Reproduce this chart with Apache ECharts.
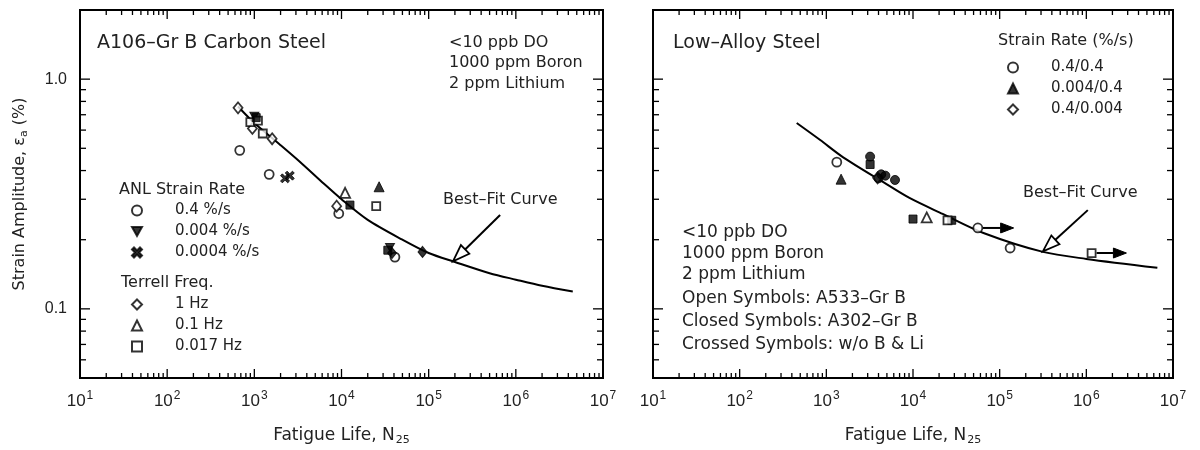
<!DOCTYPE html>
<html><head><meta charset="utf-8">
<script src="https://cdn.jsdelivr.net/npm/echarts@6/dist/echarts.min.js"></script>
<style>html,body{margin:0;padding:0;background:#fff}#c{width:1200px;height:450px}</style>
</head><body><div id="c"></div>
<script>
// ---------------- axis definitions ----------------
const xRange = [10, 1e7];
const yRange = [0.05, 2];
const xMajorTicks = [10, 100, 1000, 1e4, 1e5, 1e6, 1e7];
const xTickLabels = ['1', '2', '3', '4', '5', '6', '7'];       // exponents of 10
const yMajorTicks = [0.1, 1];
const yTickLabels = ['0.1', '1.0'];
const minorMultipliers = [2, 3, 4, 5, 6, 7, 8, 9];

// ---------------- left panel (A106-Gr B Carbon Steel) ----------------
const leftCurve = [[650,0.76],[1000,0.644],[2000,0.516],[3300,0.438],[6000,0.356],[10000,0.300],[20000,0.244],[50000,0.200],[100000,0.175],[200000,0.160],[500000,0.143],[1000000,0.134],[2000000,0.126],[4500000,0.119]];
const anlCircleOpen   = [[680,0.49],[1480,0.385],[9300,0.26],[41000,0.168]];
const anlDownTri      = [[1000,0.69],[36000,0.185]];
const anlCross        = [[2250,0.37],[2550,0.38]];
const terDiamondOpen  = [[650,0.75],[1600,0.55],[8800,0.28],[950,0.61]];
const terDiamondFill  = [[85000,0.177],[38000,0.175]];
const terTriOpen      = [[11000,0.32]];
const terTriFill      = [[27000,0.34]];
const terSquareOpen   = [[900,0.65],[1100,0.66],[25000,0.28],[1250,0.58]];
const terSquareFill   = [[12500,0.283],[1050,0.68],[34000,0.18]];
const leftFitArrow    = [[660000,0.256,190000,0.161]];

// ---------------- right panel (Low-Alloy Steel) ----------------
const rightCurve = [[455,0.644],[850,0.543],[1550,0.458],[4500,0.357],[9100,0.304],[22000,0.259],[65000,0.214],[316000,0.177],[1000000,0.165],[6600000,0.151]];
const rCircleOpen   = [[1320,0.435],[56000,0.225],[132000,0.184]];
const rCircleFill   = [[3200,0.46],[4300,0.385],[4000,0.37],[4800,0.38],[6200,0.364]];
const rTriFill      = [[1480,0.367]];
const rTriOpen      = [[14400,0.25]];
const rDiamondOpen  = [[3900,0.372]];
const rSquareFill   = [[3200,0.425],[10000,0.246],[28000,0.243]];
const rSquareOpen   = [[25000,0.243],[1150000,0.175]];
const rRunouts      = [[56000,0.225,145000,0.225],[1150000,0.175,2900000,0.175]];
const rightFitArrow = [[1040000,0.269,315000,0.178]];

// ---------------- texts ----------------
const leftTitle = 'A106\u2013Gr B Carbon Steel';
const leftEnv = ['<10 ppb DO', '1000 ppm Boron', '2 ppm Lithium'];
const anlHeader = 'ANL Strain Rate';
const anlNames = ['0.4 %/s', '0.004 %/s', '0.0004 %/s'];
const terHeader = 'Terrell Freq.';
const terNames = ['1 Hz', '0.1 Hz', '0.017 Hz'];
const rightTitle = 'Low\u2013Alloy Steel';
const rateHeader = 'Strain Rate (%/s)';
const rateNames = ['0.4/0.4', '0.004/0.4', '0.4/0.004'];
const rightNotes = ['<10 ppb DO', '1000 ppm Boron', '2 ppm Lithium', 'Open Symbols: A533\u2013Gr B', 'Closed Symbols: A302\u2013Gr B', 'Crossed Symbols: w/o B & Li'];
const fitLabel = 'Best\u2013Fit Curve';

// ---------------- styling ----------------
const FONT = '"Liberation Sans", Arial, sans-serif';
const WFONT = '"DejaVu Sans", "Liberation Sans", sans-serif';
const TXT = '#222';
const OPEN = {color:'#fff', borderColor:'#000', borderWidth:1.8};
const FILL = {color:'#000', borderColor:'#000', borderWidth:1};
const SYM = {
  circle: {symbol:'circle', symbolSize:9},
  down: {symbol:'path://M0,0L10,0L5,9Z', symbolSize:[9,8]},
  cross: {symbol:'path://M0,2L2,0L5,3L8,0L10,2L7,5L10,8L8,10L5,7L2,10L0,8L3,5Z', symbolSize:9},
  diamond: {symbol:'diamond', symbolSize:[9,11]},
  tri: {symbol:'triangle', symbolSize:10},
  square: {symbol:'rect', symbolSize:8}
};

const xMinorTicks = [];
for (let i = 0; i < xMajorTicks.length - 1; i++) minorMultipliers.forEach(m => xMinorTicks.push(xMajorTicks[i] * m));
const yMinorTicks = [0.06, 0.07, 0.08, 0.09];
minorMultipliers.forEach(m => yMinorTicks.push(0.1 * m));

function scatter(name, data, sym, style, gi) {
  return Object.assign({type:'scatter', name:name, data:data, xAxisIndex:gi, yAxisIndex:gi,
    itemStyle:style, z:5, emphasis:{disabled:true}}, SYM[sym]);
}
function curve(data, gi) {
  return {type:'line', data:data, xAxisIndex:gi, yAxisIndex:gi, showSymbol:false, smooth:0.3,
    lineStyle:{color:'#000', width:2}, z:3, silent:true};
}
function tickSeries(vals, axis, len, gi) {
  return {type:'custom', xAxisIndex:gi, yAxisIndex:gi, silent:true, z:6,
    data: vals.map(v => axis === 'x' ? [v, 1] : [100, v]),
    renderItem: function (params, api) {
      const cs = params.coordSys;
      const st = {stroke:'#000', lineWidth:1.3};
      if (axis === 'x') {
        const x = api.coord([api.value(0), 1])[0];
        return {type:'group', children:[
          {type:'line', shape:{x1:x, y1:cs.y+cs.height, x2:x, y2:cs.y+cs.height-len}, style:st},
          {type:'line', shape:{x1:x, y1:cs.y, x2:x, y2:cs.y+len}, style:st}]};
      }
      const y = api.coord([100, api.value(1)])[1];
      return {type:'group', children:[
        {type:'line', shape:{x1:cs.x, y1:y, x2:cs.x+len, y2:y}, style:st},
        {type:'line', shape:{x1:cs.x+cs.width, y1:y, x2:cs.x+cs.width-len, y2:y}, style:st}]};
    }};
}
function arrowSeries(data, open, gi) {
  return {type:'custom', xAxisIndex:gi, yAxisIndex:gi, silent:true, z:7,
    encode:{x:[0,2], y:[1,3]}, data:data,
    renderItem: function (params, api) {
      const p1 = api.coord([api.value(0), api.value(1)]);
      const p2 = api.coord([api.value(2), api.value(3)]);
      const dx = p2[0]-p1[0], dy = p2[1]-p1[1];
      const L = Math.sqrt(dx*dx+dy*dy), ux = dx/L, uy = dy/L;
      const hl = open ? 17 : 13, hw = open ? 6 : 5;
      const bx = p2[0]-ux*hl, by = p2[1]-uy*hl;
      const startOff = open ? 0 : 5;
      return {type:'group', children:[
        {type:'line', shape:{x1:p1[0]+ux*startOff, y1:p1[1]+uy*startOff, x2:bx, y2:by}, style:{stroke:'#000', lineWidth:2}},
        {type:'polygon', shape:{points:[[p2[0],p2[1]],[bx-uy*hw, by+ux*hw],[bx+uy*hw, by-ux*hw]]},
          style:{fill: open ? '#fff' : '#000', stroke:'#000', lineWidth: open ? 1.8 : 1}}]};
    }};
}

function xAxis(gi) {
  return {type:'log', logBase:10, gridIndex:gi, min:xRange[0], max:xRange[1],
    name:'{n|Fatigue Life, N}{sub|25}', nameLocation:'middle', nameGap:48,
    nameTextStyle:{color:TXT, fontFamily:WFONT, rich:{n:{fontSize:17, color:TXT, fontFamily:WFONT}, sub:{fontSize:11, color:TXT, fontFamily:WFONT, padding:[9,0,0,1]}}},
    axisLine:{show:false}, axisTick:{show:false}, splitLine:{show:false}, minorTick:{show:false},
    axisLabel:{interval:0, margin:12, showMinLabel:true, showMaxLabel:true, hideOverlap:false,
      formatter: function (v) {
        const e = Math.round(Math.log10(v));
        const idx = xMajorTicks.findIndex(t => Math.abs(Math.log10(t) - e) < 1e-6);
        if (idx < 0 || Math.abs(Math.log10(v) - e) > 1e-6) return '';
        return '{b|10}{s|' + xTickLabels[idx] + '}';
      },
      rich:{b:{fontSize:17, color:TXT, fontFamily:FONT}, s:{fontSize:12, color:TXT, fontFamily:FONT, padding:[0,0,10,1]}}}};
}
function yAxis(gi, showLabels) {
  return {type:'log', logBase:10, gridIndex:gi, min:yRange[0], max:yRange[1],
    name: showLabels ? '{n|Strain Amplitude, \u03b5}{sub|a}{n| (%)}' : '',
    nameLocation:'middle', nameGap:50, nameRotate:90,
    nameTextStyle:{color:TXT, fontFamily:WFONT, rich:{n:{fontSize:16, color:TXT, fontFamily:WFONT}, sub:{fontSize:11, color:TXT, fontFamily:WFONT, padding:[9,0,0,0]}}},
    axisLine:{show:false}, axisTick:{show:false}, splitLine:{show:false}, minorTick:{show:false},
    axisLabel:{show:showLabels, margin:13, color:TXT, fontSize:16, fontFamily:FONT, showMinLabel:true, showMaxLabel:true,
      formatter: function (v) {
        for (let i = 0; i < yMajorTicks.length; i++) if (Math.abs(v - yMajorTicks[i]) < 1e-9) return yTickLabels[i];
        return '';
      }}};
}
function legend(names, left, top) {
  return {data:names, orient:'vertical', left:left, top:top, itemWidth:10, itemHeight:10, itemGap:6,
    selectedMode:false, padding:0,
    formatter: n => '{t|' + n + '}',
    textStyle:{color:TXT, fontFamily:WFONT, fontSize:15, rich:{t:{fontSize:15, color:TXT, fontFamily:WFONT, padding:[0,0,0,28], lineHeight:17}}}};
}
function txt(x, y, s, size) {
  return {type:'text', x:x, y:y, style:{text:s, font: size + 'px ' + WFONT, fill:TXT, verticalAlign:'middle', textVerticalAlign:'middle'}};
}

const graphics = [
  txt(97, 43, leftTitle, 19),
  txt(119, 190, anlHeader, 16),
  txt(121, 283, terHeader, 16),
  txt(443, 200, fitLabel, 16),
  txt(673, 43, rightTitle, 19),
  txt(998, 41, rateHeader, 16),
  txt(1023, 193, fitLabel, 16)
];
leftEnv.forEach((s, i) => graphics.push(txt(449, [43, 63, 84][i], s, 16)));
rightNotes.forEach((s, i) => graphics.push(txt(682, [233, 254, 275, 299, 322, 345][i], s, 17)));

const option = {
  animation:false,
  backgroundColor:'#fff',
  grid:[
    {left:80, top:10, width:523, height:368, show:true, borderColor:'#000', borderWidth:2, backgroundColor:'transparent', outerBoundsMode:'none', containLabel:false},
    {left:653, top:10, width:520, height:368, show:true, borderColor:'#000', borderWidth:2, backgroundColor:'transparent', outerBoundsMode:'none', containLabel:false}
  ],
  xAxis:[xAxis(0), xAxis(1)],
  yAxis:[yAxis(0, true), yAxis(1, false)],
  legend:[
    legend(anlNames, 131, 203),
    legend(terNames, 131, 297),
    legend(rateNames, 1007, 60)
  ],
  graphic:graphics,
  series:[
    curve(leftCurve, 0),
    scatter(anlNames[0], anlCircleOpen, 'circle', OPEN, 0),
    scatter(anlNames[1], anlDownTri, 'down', FILL, 0),
    scatter(anlNames[2], anlCross, 'cross', FILL, 0),
    scatter(terNames[0], terDiamondOpen, 'diamond', OPEN, 0),
    scatter(terNames[1], terTriOpen, 'tri', OPEN, 0),
    scatter(terNames[2], terSquareOpen, 'square', OPEN, 0),
    scatter('1 Hz (filled)', terDiamondFill, 'diamond', FILL, 0),
    scatter('0.1 Hz (filled)', terTriFill, 'tri', FILL, 0),
    scatter('0.017 Hz (filled)', terSquareFill, 'square', FILL, 0),
    arrowSeries(leftFitArrow, true, 0),
    tickSeries(xMajorTicks, 'x', 9, 0),
    tickSeries(xMinorTicks, 'x', 5, 0),
    tickSeries(yMajorTicks, 'y', 10, 0),
    tickSeries(yMinorTicks, 'y', 6, 0),

    curve(rightCurve, 1),
    scatter(rateNames[0], rCircleOpen, 'circle', OPEN, 1),
    scatter(rateNames[1], rTriFill, 'tri', FILL, 1),
    scatter(rateNames[2], rDiamondOpen, 'diamond', OPEN, 1),
    scatter('A302 circles', rCircleFill, 'circle', FILL, 1),
    scatter('A533 triangles', rTriOpen, 'tri', OPEN, 1),
    scatter('A302 squares', rSquareFill, 'square', FILL, 1),
    scatter('A533 squares', rSquareOpen, 'square', OPEN, 1),
    arrowSeries(rRunouts, false, 1),
    arrowSeries(rightFitArrow, true, 1),
    tickSeries(xMajorTicks, 'x', 9, 1),
    tickSeries(xMinorTicks, 'x', 5, 1),
    tickSeries(yMajorTicks, 'y', 10, 1),
    tickSeries(yMinorTicks, 'y', 6, 1)
  ]
};
const chart = echarts.init(document.getElementById('c'), null, {renderer:'canvas'});
chart.setOption(option);
</script></body></html>
